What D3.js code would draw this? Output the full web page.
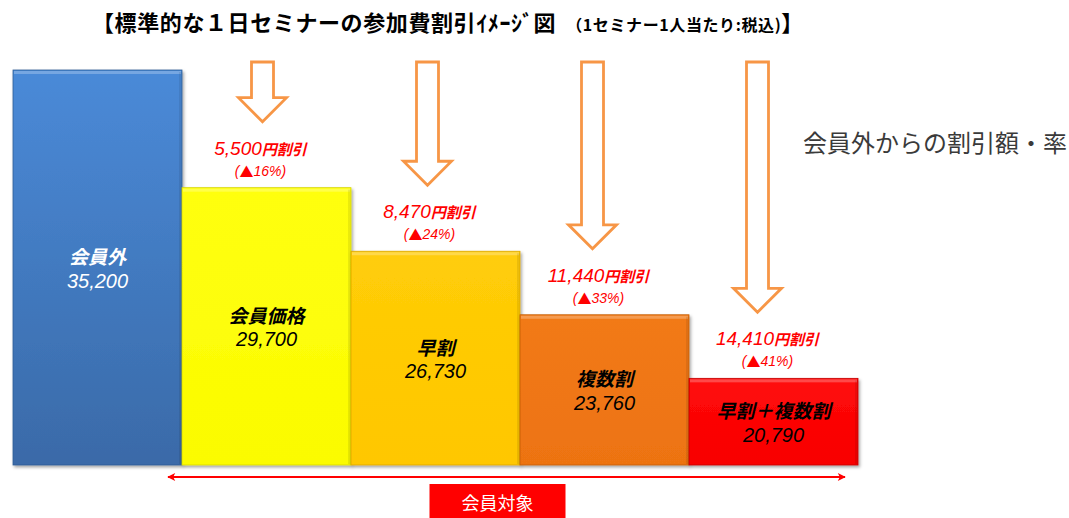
<!DOCTYPE html>
<html>
<head>
<meta charset="utf-8">
<script src="https://cdn.jsdelivr.net/npm/d3@7"></script>
<style>
  body { margin: 0; background: #fff; }
  svg { display: block; }
</style>
</head>
<body>
<div id="chart"></div>
<script>
// data
var categories = ["会員外", "会員価格", "早割", "複数割", "早割＋複数割"];
var prices = [35200, 29700, 26730, 23760, 20790];
var discounts = [null, 5500, 8470, 11440, 14410];
var rates = [null, 16, 24, 33, 41];

// styles
var barColors = [
  ["#4a8ad8", "#3a6aa8"],
  ["#ffff10", "#fbfb00"],
  ["#ffcd08", "#ffc700"],
  ["#f27a18", "#ed7311"],
  ["#ff0a0a", "#f80000"]
];
var edgeColors = ["#2f5c94", "#d6d600", "#dba500", "#c45c08", "#c40000"];
var textColors = ["#fff", "#000", "#000", "#000", "#000"];

var width = 1069, height = 518;
var numFont = "'Liberation Sans', 'Noto Sans CJK JP', sans-serif";
var jpFont = "'Noto Sans CJK JP', sans-serif";

var svg = d3.select("#chart")
  .append("svg")
    .attr("width", width)
    .attr("height", height);

var x = d3.scaleBand()
  .domain(categories)
  .range([13, 858])
  .padding(0);

var y = d3.scaleLinear()
  .domain([16740, 35200])
  .range([465, 70]);

var bw = x.bandwidth();
var fmt = d3.format(",");

var data = categories.map(function(c, i) {
  return {cat: c, price: prices[i], off: discounts[i], rate: rates[i], i: i};
});

var defs = svg.append("defs");

var shadow = defs.append("filter")
  .attr("id", "shadow")
  .attr("x", "-5%").attr("y", "-5%")
  .attr("width", "115%").attr("height", "115%");
shadow.append("feDropShadow")
  .attr("dx", 1.5).attr("dy", 2)
  .attr("stdDeviation", 1.5)
  .attr("flood-color", "#000")
  .attr("flood-opacity", 0.35);

data.forEach(function(d) {
  var g = defs.append("linearGradient")
    .attr("id", "grad" + d.i)
    .attr("x1", 0).attr("y1", 0).attr("x2", 0).attr("y2", 1);
  g.append("stop").attr("offset", "0%").attr("stop-color", barColors[d.i][0]);
  g.append("stop").attr("offset", "100%").attr("stop-color", barColors[d.i][1]);
});

// title
var title = svg.append("text")
  .attr("x", 92)
  .attr("y", 31)
  .style("font-family", jpFont)
  .style("font-weight", "bold")
  .attr("fill", "#000");
title.append("tspan").style("font-size", "22px").style("letter-spacing", "0.6px")
  .text("【標準的な１日セミナーの参加費割引ｲﾒｰｼﾞ図");
title.append("tspan").attr("dx", 10).style("font-size", "16px").style("letter-spacing", "0.6px")
  .text("（1セミナー1人当たり:税込)");
title.append("tspan").style("font-size", "22px").text("】");

// bars
var bars = svg.append("g").attr("class", "bars");

bars.selectAll("rect.bar")
  .data(data)
  .enter()
  .append("rect")
    .attr("class", "bar")
    .attr("x", function(d) { return x(d.cat); })
    .attr("y", function(d) { return y(d.price); })
    .attr("width", bw)
    .attr("height", function(d) { return y.range()[0] - y(d.price); })
    .attr("fill", function(d) { return "url(#grad" + d.i + ")"; })
    .attr("stroke", function(d) { return edgeColors[d.i]; })
    .attr("stroke-width", 0.8)
    .attr("filter", "url(#shadow)");

// bevel highlight on top
bars.selectAll("rect.hi")
  .data(data)
  .enter()
  .append("rect")
    .attr("class", "hi")
    .attr("x", function(d) { return x(d.cat) + 1; })
    .attr("y", function(d) { return y(d.price) + 1; })
    .attr("width", bw - 2)
    .attr("height", 3)
    .attr("fill", "#fff")
    .attr("opacity", 0.25);

// dark right edge
bars.selectAll("rect.rt")
  .data(data)
  .enter()
  .append("rect")
    .attr("class", "rt")
    .attr("x", function(d) { return x(d.cat) + bw - 3; })
    .attr("y", function(d) { return y(d.price) + 2; })
    .attr("width", 2.5)
    .attr("height", function(d) { return y.range()[0] - y(d.price) - 3; })
    .attr("fill", "#000")
    .attr("opacity", 0.08);

// labels in bars
var inner = svg.append("g").attr("class", "inner");

inner.selectAll("text.cat")
  .data(data)
  .enter()
  .append("text")
    .attr("class", "cat")
    .attr("x", function(d) { return x(d.cat) + bw / 2; })
    .attr("y", function(d) { return (y(d.price) + y.range()[0]) / 2 - 12; })
    .attr("text-anchor", "middle")
    .attr("dominant-baseline", "central")
    .style("font-family", jpFont)
    .style("font-size", "19px")
    .style("font-weight", "bold")
    .style("font-style", "italic")
    .attr("fill", function(d) { return textColors[d.i]; })
    .text(function(d) { return d.cat; });

inner.selectAll("text.val")
  .data(data)
  .enter()
  .append("text")
    .attr("class", "val")
    .attr("x", function(d) { return x(d.cat) + bw / 2; })
    .attr("y", function(d) { return (y(d.price) + y.range()[0]) / 2 + 13; })
    .attr("text-anchor", "middle")
    .attr("dominant-baseline", "central")
    .style("font-family", numFont)
    .style("font-size", "20px")
    .style("font-style", "italic")
    .attr("fill", function(d) { return textColors[d.i]; })
    .text(function(d) { return fmt(d.price); });

// hollow down arrows + discount labels
var disc = data.filter(function(d) { return d.off !== null; });

var ax = d3.scalePoint()
  .domain(disc.map(function(d) { return d.cat; }))
  .range([x(disc[0].cat) + bw / 2 - 4, x(disc[disc.length - 1].cat) + bw / 2 - 16]);

var arrowTop = 62, sw = 11, hw = 24, hl = 24;

svg.append("g").attr("class", "arrows")
  .selectAll("path")
  .data(disc)
  .enter()
  .append("path")
    .attr("d", function(d) {
      var cx = ax(d.cat), b = y(d.price) - 66;
      return "M" + (cx - sw) + "," + arrowTop +
        "L" + (cx + sw) + "," + arrowTop +
        "L" + (cx + sw) + "," + (b - hl) +
        "L" + (cx + hw) + "," + (b - hl) +
        "L" + cx + "," + b +
        "L" + (cx - hw) + "," + (b - hl) +
        "L" + (cx - sw) + "," + (b - hl) + "Z";
    })
    .attr("fill", "#fff")
    .attr("stroke", "#f79646")
    .attr("stroke-width", 2.8)
    .attr("stroke-linejoin", "miter");

var lab = svg.append("g").attr("class", "disc");

var l1 = lab.selectAll("text.l1")
  .data(disc)
  .enter()
  .append("text")
    .attr("class", "l1")
    .attr("x", function(d) { return x(d.cat) + bw / 2 - 6; })
    .attr("y", function(d) { return y(d.price) - 40; })
    .attr("text-anchor", "middle")
    .attr("dominant-baseline", "central")
    .style("font-style", "italic")
    .attr("fill", "#ff0000");
l1.append("tspan")
  .style("font-family", numFont)
  .style("font-size", "19px")
  .text(function(d) { return fmt(d.off); });
l1.append("tspan")
  .style("font-family", jpFont)
  .style("font-size", "15px")
  .style("font-weight", "bold")
  .text("円割引");

var l2 = lab.selectAll("text.l2")
  .data(disc)
  .enter()
  .append("text")
    .attr("class", "l2")
    .attr("x", function(d) { return x(d.cat) + bw / 2 - 6; })
    .attr("y", function(d) { return y(d.price) - 17; })
    .attr("text-anchor", "middle")
    .attr("dominant-baseline", "central")
    .style("font-family", numFont)
    .style("font-size", "14px")
    .style("font-style", "italic")
    .attr("fill", "#ff0000");
l2.append("tspan").text("(");
l2.append("tspan").style("font-family", jpFont).style("font-style", "normal").text("▲");
l2.append("tspan").text(function(d) { return d.rate + "%)"; });

// side note
svg.append("text")
  .attr("x", 803)
  .attr("y", 152)
  .style("font-family", jpFont)
  .style("font-size", "24px")
  .attr("fill", "#3a3a3a")
  .text("会員外からの割引額・率");

// members range arrow
defs.append("marker")
  .attr("id", "head")
  .attr("viewBox", "0 0 10 10")
  .attr("refX", 9).attr("refY", 5)
  .attr("markerWidth", 9).attr("markerHeight", 8)
  .attr("markerUnits", "userSpaceOnUse")
  .attr("orient", "auto-start-reverse")
  .append("path")
    .attr("d", "M0,0L10,5L0,10L2.5,5Z")
    .attr("fill", "#ff0000");

var x0 = x(categories[1]) - 14, x1 = x(categories[4]) + bw - 13, yl = 477;

svg.append("line")
  .attr("x1", x0).attr("x2", x1)
  .attr("y1", yl).attr("y2", yl)
  .attr("stroke", "#ff0000")
  .attr("stroke-width", 2)
  .attr("marker-start", "url(#head)")
  .attr("marker-end", "url(#head)");

var bx = (x0 + x1) / 2 - 9;
svg.append("rect")
  .attr("x", bx - 68)
  .attr("y", 484)
  .attr("width", 136)
  .attr("height", 34)
  .attr("fill", "#ff0000");

svg.append("text")
  .attr("x", bx)
  .attr("y", 502)
  .attr("text-anchor", "middle")
  .attr("dominant-baseline", "central")
  .style("font-family", jpFont)
  .style("font-size", "18px")
  .attr("fill", "#fff")
  .text("会員対象");
</script>
</body>
</html>
